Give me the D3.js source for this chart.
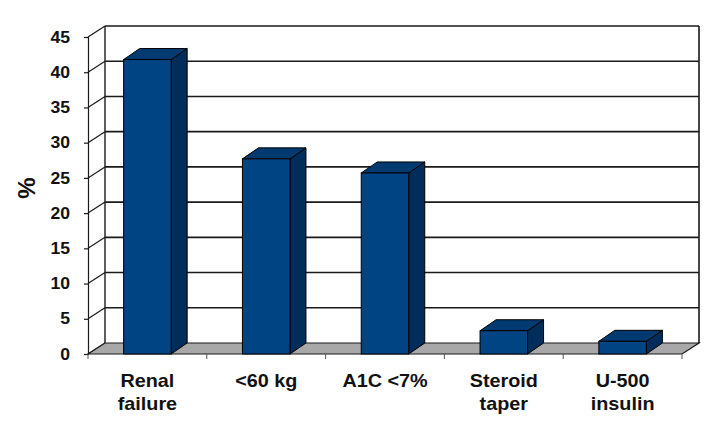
<!DOCTYPE html>
<html>
<head>
<meta charset="utf-8">
<script src="https://cdn.jsdelivr.net/npm/d3@7"></script>
<style>
  body { margin: 0; background: #fff; }
  text { font-family: "Liberation Sans", Arial, sans-serif; font-weight: bold; fill: #111; }
</style>
</head>
<body>
<svg id="chart" width="724" height="428"></svg>
<script>
// data
const categories = [["Renal", "failure"], ["<60 kg"], ["A1C <7%"], ["Steroid", "taper"], ["U-500", "insulin"]];
const values = [41.8, 27.7, 25.7, 3.3, 1.8];
const yTicks = [0, 5, 10, 15, 20, 25, 30, 35, 40, 45];

const svg = d3.select("#chart");

let plotLeft = 88, plotRight = 682, plotBottom = 354, plotTop = 37;
let wallDx = 17, wallDy = -11;   // depth of the box
let barDx = 16, barDy = -11;     // depth of each bar
let stretch = 1.1;               // text in the picture is a bit wide

let keys = categories.map(c => c.join(" "));

let x = d3.scaleBand()
    .domain(keys)
    .range([plotLeft, plotRight])
    .paddingInner(0.6)
    .paddingOuter(0.3);

let y = d3.scaleLinear()
    .domain([0, 45])
    .range([plotBottom, plotTop]);

let lineCol = "#1a1a1a";

// back wall + side wall gridlines
let grid = svg.append("g");

grid.selectAll(".back")
    .data(yTicks.filter(d => d > 0))
    .enter().append("line")
    .attr("x1", plotLeft + wallDx).attr("x2", plotRight + wallDx)
    .attr("y1", d => y(d) + wallDy).attr("y2", d => y(d) + wallDy)
    .attr("stroke", lineCol).attr("stroke-width", 1.6);

grid.selectAll(".side")
    .data(yTicks)
    .enter().append("line")
    .attr("x1", plotLeft).attr("x2", plotLeft + wallDx)
    .attr("y1", d => y(d)).attr("y2", d => y(d) + wallDy)
    .attr("stroke", lineCol).attr("stroke-width", 1.2);

// back wall verticals
grid.append("line")
    .attr("x1", plotLeft + wallDx).attr("x2", plotLeft + wallDx)
    .attr("y1", y(45) + wallDy).attr("y2", y(0) + wallDy)
    .attr("stroke", lineCol).attr("stroke-width", 1.4);
grid.append("line")
    .attr("x1", plotRight + wallDx).attr("x2", plotRight + wallDx)
    .attr("y1", y(45) + wallDy).attr("y2", y(0) + wallDy)
    .attr("stroke", lineCol).attr("stroke-width", 1.6);

// floor
svg.append("path")
    .attr("d", `M${plotLeft},${y(0)} L${plotLeft + wallDx},${y(0) + wallDy} L${plotRight + wallDx},${y(0) + wallDy} L${plotRight},${y(0)} Z`)
    .attr("fill", "#a8a8a8")
    .attr("stroke", lineCol).attr("stroke-width", 1.2);

// front axis
let yAxis = d3.axisLeft(y).tickValues(yTicks).tickSize(4).tickPadding(14);
let ay = svg.append("g")
    .attr("transform", `translate(${plotLeft},0)`)
    .call(yAxis);
ay.select(".domain").attr("stroke", lineCol).attr("stroke-width", 1.2);
ay.selectAll(".tick line").attr("stroke", lineCol).attr("stroke-width", 1.2);
ay.selectAll(".tick text")
    .attr("x", 0)
    .attr("transform", `translate(-18,0) scale(${stretch},1)`)
    .attr("font-size", 16)
    .attr("font-family", "Liberation Sans, Arial, sans-serif")
    .attr("font-weight", "bold")
    .attr("fill", "#111");

// category axis ticks
let xTickPos = keys.map(k => x(k) - x.step() * 0.3).concat([plotRight]);
svg.selectAll(".xtick")
    .data(xTickPos)
    .enter().append("line")
    .attr("x1", d => d).attr("x2", d => d)
    .attr("y1", y(0)).attr("y2", y(0) + 5)
    .attr("stroke", "#555").attr("stroke-width", 1);

// bars
let bars = svg.selectAll(".bar")
    .data(values)
    .enter().append("g");

bars.append("path")   // side
    .attr("d", (d, i) => {
        let x1 = x(keys[i]) + x.bandwidth();
        return `M${x1},${y(d)} L${x1 + barDx},${y(d) + barDy} L${x1 + barDx},${y(0) + barDy} L${x1},${y(0)} Z`;
    })
    .attr("fill", "#002d5a")
    .attr("stroke", "#000").attr("stroke-width", 1);

bars.append("path")   // top
    .attr("d", (d, i) => {
        let x0 = x(keys[i]), x1 = x0 + x.bandwidth();
        return `M${x0},${y(d)} L${x0 + barDx},${y(d) + barDy} L${x1 + barDx},${y(d) + barDy} L${x1},${y(d)} Z`;
    })
    .attr("fill", "#003a70")
    .attr("stroke", "#000").attr("stroke-width", 1);

bars.append("rect")   // front
    .attr("x", (d, i) => x(keys[i]))
    .attr("y", d => y(d))
    .attr("width", x.bandwidth())
    .attr("height", d => y(0) - y(d))
    .attr("fill", "#004483")
    .attr("stroke", "#000").attr("stroke-width", 1);

// category labels
categories.forEach((c, i) => {
    let t = svg.append("text")
        .attr("transform", `translate(${x(keys[i]) + x.bandwidth() / 2},387) scale(${stretch},1)`)
        .attr("text-anchor", "middle")
        .attr("font-size", 18);
    c.forEach((line, j) => {
        t.append("tspan")
            .attr("x", 0)
            .attr("dy", j === 0 ? 0 : 23)
            .text(line);
    });
});

// y label
svg.append("text")
    .attr("transform", "translate(35,188) rotate(-90)")
    .attr("text-anchor", "middle")
    .attr("font-size", 24)
    .text("%");
</script>
</body>
</html>
